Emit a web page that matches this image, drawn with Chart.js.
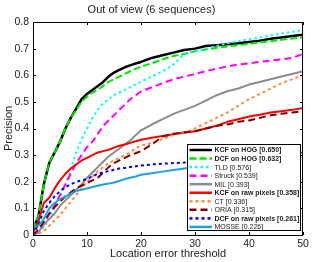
<!DOCTYPE html>
<html><head><meta charset="utf-8">
<script src="https://cdn.jsdelivr.net/npm/chart.js@4/dist/chart.umd.min.js"></script>
<style>html,body{margin:0;padding:0;background:#fff}#w{width:312px;height:262px}</style>
</head><body><div id="w"><canvas id="c"></canvas></div>
<script>
const thresholds = [0,1,2,3,4,5,6,7,8,9,10,11,12,13,14,15,16,17,18,19,20,22,24,26,28,30,32,34,36,38,40,42,44,46,48,50];
const xTicks = [0,10,20,30,40,50];
const yTicks = [0,0.1,0.2,0.3,0.4,0.5,0.6,0.7,0.8];
const labels = ["KCF on HOG [0.650]","DCF on HOG [0.632]","TLD [0.576]","Struck [0.539]","MIL [0.393]","KCF on raw pixels [0.358]","CT [0.336]","ORIA [0.315]","DCF on raw pixels [0.261]","MOSSE [0.226]"];
const kcfHog = [0.02,0.07,0.19,0.27,0.31,0.35,0.40,0.44,0.475,0.51,0.53,0.545,0.56,0.575,0.595,0.61,0.62,0.63,0.637,0.644,0.650,0.665,0.675,0.685,0.695,0.70,0.71,0.713,0.716,0.72,0.725,0.73,0.737,0.742,0.747,0.752];
const dcfHog = [0.02,0.07,0.19,0.27,0.31,0.35,0.40,0.44,0.47,0.50,0.52,0.535,0.545,0.56,0.575,0.585,0.595,0.605,0.615,0.624,0.632,0.645,0.66,0.672,0.68,0.69,0.697,0.703,0.708,0.713,0.718,0.723,0.728,0.733,0.738,0.742];
const tld = [0,0.01,0.03,0.06,0.10,0.14,0.19,0.25,0.31,0.36,0.40,0.44,0.47,0.495,0.51,0.525,0.535,0.545,0.555,0.566,0.576,0.595,0.615,0.64,0.68,0.69,0.70,0.71,0.72,0.728,0.735,0.742,0.75,0.757,0.763,0.77];
const struck = [0,0.01,0.04,0.08,0.11,0.15,0.19,0.23,0.27,0.30,0.33,0.35,0.38,0.41,0.43,0.45,0.47,0.49,0.51,0.525,0.539,0.555,0.57,0.585,0.595,0.605,0.615,0.625,0.633,0.64,0.645,0.65,0.655,0.66,0.665,0.68];
const mil = [0,0.01,0.04,0.06,0.08,0.11,0.13,0.15,0.17,0.19,0.215,0.235,0.255,0.275,0.295,0.31,0.325,0.34,0.355,0.375,0.393,0.415,0.435,0.455,0.47,0.485,0.505,0.525,0.54,0.55,0.565,0.575,0.585,0.595,0.605,0.615];
const kcfRaw = [0.01,0.05,0.12,0.14,0.175,0.205,0.23,0.25,0.265,0.28,0.29,0.30,0.31,0.315,0.32,0.328,0.335,0.34,0.346,0.352,0.358,0.365,0.372,0.378,0.385,0.39,0.40,0.41,0.425,0.435,0.445,0.452,0.46,0.465,0.47,0.477];
const ct = [0,0.005,0.015,0.035,0.055,0.075,0.10,0.125,0.15,0.175,0.20,0.22,0.24,0.255,0.27,0.28,0.29,0.30,0.31,0.325,0.336,0.345,0.36,0.375,0.385,0.40,0.42,0.44,0.46,0.485,0.51,0.53,0.55,0.57,0.585,0.60];
const oria = [0,0.02,0.05,0.08,0.105,0.125,0.145,0.16,0.175,0.185,0.195,0.205,0.215,0.235,0.255,0.27,0.28,0.29,0.30,0.307,0.315,0.34,0.37,0.38,0.385,0.39,0.40,0.41,0.415,0.425,0.43,0.44,0.45,0.455,0.46,0.465];
const dcfRaw = [0,0.04,0.09,0.12,0.145,0.165,0.18,0.19,0.20,0.205,0.21,0.22,0.23,0.235,0.24,0.245,0.25,0.252,0.255,0.258,0.261,0.265,0.268,0.27,0.272,0.275,0.278,0.28,0.283,0.286,0.289,0.292,0.295,0.297,0.299,0.30];
const mosse = [0.03,0.035,0.06,0.10,0.12,0.135,0.145,0.155,0.165,0.17,0.175,0.18,0.185,0.19,0.193,0.197,0.203,0.21,0.215,0.22,0.226,0.232,0.238,0.244,0.25,0.255,0.262,0.27,0.275,0.28,0.285,0.29,0.295,0.30,0.305,0.31];

const series = [kcfHog,dcfHog,tld,struck,mil,kcfRaw,ct,oria,dcfRaw,mosse];
const colors = ['#000000','#00e600','#00ffff','#ff00ff','#8c8c8c','#ff0000','#ff8c40','#800000','#0000ff','#1fa0e0'];
const dashes = [[],[7,3],[2.5,3],[7,4],[],[],[3,3],[7,4],[3,3],[]];
const widths = [2.5,2,2,2,2,2,2,2,2,2];
const boldIdx = [0,1,5,8];

const datasets = series.map((s,i)=>({
  label: labels[i],
  data: s.map((v,j)=>({x:thresholds[j], y:v})),
  borderColor: colors[i], backgroundColor: colors[i],
  borderDash: dashes[i], borderWidth: widths[i],
  pointRadius: 0, tension: 0, fill: false,
  order: series.length - i, borderCapStyle:'butt', borderJoinStyle:'round'
}));

const FONT = '"Liberation Sans", Arial, sans-serif';

const framePlugin = {
  id: 'frame',
  afterDatasetsDraw(chart){
    const {ctx, chartArea:a, scales} = chart;
    ctx.save();
    // legend box
    const lx=187.5, ly=144.5, lw=113, lh=86;
    ctx.fillStyle='#fff'; ctx.fillRect(lx,ly,lw,lh);
    ctx.strokeStyle='#000'; ctx.lineWidth=1; ctx.strokeRect(lx,ly,lw,lh);
    chart.data.datasets.forEach((d,i)=>{
      const y = 150 + i*8.55;
      ctx.beginPath();
      ctx.setLineDash(d.borderDash);
      ctx.lineWidth = 2.5; ctx.strokeStyle = d.borderColor; ctx.lineCap='butt';
      ctx.moveTo(189.5,y); ctx.lineTo(212,y); ctx.stroke();
      ctx.setLineDash([]);
      ctx.fillStyle = '#222';
      ctx.font = (boldIdx.includes(i)?'bold ':'') + '7px ' + FONT;
      ctx.textBaseline='middle'; ctx.textAlign='left';
      ctx.fillText(d.label, 214.5, y+0.5);
    });
    // axes box and inside ticks
    ctx.strokeStyle='#000'; ctx.lineWidth=1;
    ctx.strokeRect(Math.round(a.left)+0.5, Math.round(a.top)+0.5, Math.round(a.right-a.left)-1, Math.round(a.bottom-a.top));
    ctx.beginPath();
    xTicks.forEach(t=>{
      const x = Math.round(scales.x.getPixelForValue(t))+0.5;
      ctx.moveTo(x,a.bottom); ctx.lineTo(x,a.bottom-3);
      ctx.moveTo(x,a.top); ctx.lineTo(x,a.top+3);
    });
    yTicks.forEach(t=>{
      const y = Math.round(scales.y.getPixelForValue(t))+0.5;
      ctx.moveTo(a.left,y); ctx.lineTo(a.left+3,y);
      ctx.moveTo(a.right,y); ctx.lineTo(a.right-3,y);
    });
    ctx.stroke();
    ctx.restore();
  }
};

new Chart(document.getElementById('c'), {
  type: 'line',
  data: { datasets },
  options: {
    responsive: true, maintainAspectRatio: false, animation: false,
    devicePixelRatio: 1,
    layout: { padding: { left: 0, right: 9, top: 0, bottom: 0 } },
    plugins: {
      legend: { display: false }, tooltip: { enabled: false },
      title: { display: true, text: 'Out of view (6 sequences)', color:'#222',
        font: { family: FONT, size: 11, weight: 'normal' }, padding: { top: 3, bottom: 5.8 } }
    },
    scales: {
      x: { type: 'linear', min: 0, max: 50,
        afterBuildTicks(s){ s.ticks = xTicks.map(v=>({value:v})); },
        afterFit(s){ s.height = 27; },
        grid: { display: false, drawTicks: false },
        border: { display: false },
        ticks: { color:'#222', font:{family:FONT,size:10.5}, padding: 3, maxRotation:0 },
        title: { display: true, text: 'Location error threshold', color:'#222', font:{family:FONT,size:11}, padding:{top:0,bottom:1.5} }
      },
      y: { type: 'linear', min: 0, max: 0.8,
        afterBuildTicks(s){ s.ticks = yTicks.map(v=>({value:v})); },
        afterFit(s){ s.width = 33; },
        grid: { display: false, drawTicks: false },
        border: { display: false },
        ticks: { color:'#222', font:{family:FONT,size:10.5}, padding: 4, callback: v => String(Math.round(v*10)/10) },
        title: { display: true, text: 'Precision', color:'#222', font:{family:FONT,size:11}, padding:{top:2,bottom:0} }
      }
    }
  },
  plugins: [framePlugin]
});
</script></body></html>
